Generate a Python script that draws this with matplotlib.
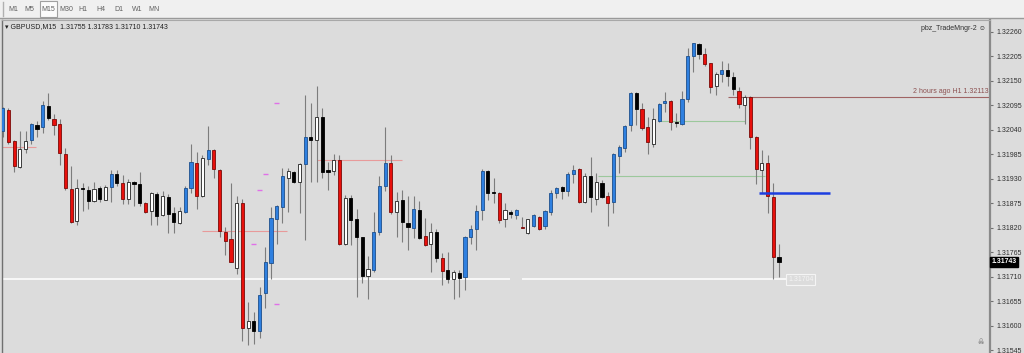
import matplotlib
matplotlib.use("Agg")
import matplotlib.pyplot as plt
import matplotlib.transforms as mtransforms
from matplotlib.patches import Rectangle

plt.rcParams['font.family'] = ['Liberation Sans', 'DejaVu Sans']

# GBPUSD M15 candles (O, H, L, C) and body colour class
opens = [1.32038, 1.32084, 1.32015, 1.31957, 1.31996, 1.32017, 1.32051, 1.32045, 1.32094, 1.32065,
         1.32052, 1.31985, 1.31907, 1.31834, 1.31910, 1.31905, 1.31881, 1.31908, 1.31883, 1.31912,
         1.31940, 1.31920, 1.31884, 1.31923, 1.31918, 1.31876, 1.31858, 1.31896, 1.31848, 1.31890,
         1.31852, 1.31830, 1.31856, 1.31910, 1.31966, 1.31891, 1.31974, 1.31994, 1.31950, 1.31811,
         1.31794, 1.31730, 1.31875, 1.31594, 1.31611, 1.31587, 1.31673, 1.31740, 1.31839, 1.31867,
         1.31932, 1.31946, 1.31922, 1.31962, 1.32024, 1.32017, 1.32068, 1.31948, 1.31948, 1.31972,
         1.31783, 1.31886, 1.31839, 1.31798, 1.31712, 1.31724, 1.31810, 1.31914, 1.31966, 1.31855,
         1.31882, 1.31831, 1.31819, 1.31860, 1.31801, 1.31783, 1.31811, 1.31751, 1.31724, 1.31704,
         1.31719, 1.31710, 1.31800, 1.31816, 1.31860, 1.31947, 1.31901, 1.31899, 1.31839, 1.31856,
         1.31848, 1.31822, 1.31807, 1.31824, 1.31845, 1.31824, 1.31856, 1.31897, 1.31912, 1.31903,
         1.31941, 1.31951, 1.31878, 1.31936, 1.31884, 1.31921, 1.31891, 1.31877, 1.31981, 1.32000,
         1.32051, 1.32123, 1.32086, 1.32045, 1.32009, 1.32060, 1.32099, 1.32104, 1.32057, 1.32053,
         1.32110, 1.32205, 1.32232, 1.32210, 1.32189, 1.32137, 1.32164, 1.32175, 1.32159, 1.32127,
         1.32095, 1.32114, 1.32024, 1.31950, 1.31965, 1.31890, 1.31755]
highs = [1.32092, 1.32089, 1.32018, 1.32036, 1.32036, 1.32056, 1.32060, 1.32104, 1.32122, 1.32075,
         1.32063, 1.31998, 1.31958, 1.31929, 1.31920, 1.31914, 1.31923, 1.31914, 1.31915, 1.31950,
         1.31950, 1.31938, 1.31929, 1.31925, 1.31944, 1.31878, 1.31901, 1.31901, 1.31903, 1.31896,
         1.31866, 1.31867, 1.31914, 1.32009, 1.31991, 1.31983, 1.32048, 1.31996, 1.31951, 1.31822,
         1.31920, 1.31891, 1.31884, 1.31654, 1.31631, 1.31686, 1.31777, 1.31867, 1.31870, 1.31953,
         1.31955, 1.31948, 1.31965, 1.32118, 1.32101, 1.32137, 1.32088, 1.31968, 1.31985, 1.31983,
         1.31893, 1.31893, 1.31863, 1.31800, 1.31756, 1.31856, 1.31935, 1.32045, 1.31983, 1.31901,
         1.31905, 1.31891, 1.31891, 1.31880, 1.31841, 1.31830, 1.31816, 1.31764, 1.31766, 1.31726,
         1.31724, 1.31801, 1.31826, 1.31871, 1.31951, 1.31949, 1.31931, 1.31901, 1.31876, 1.31860,
         1.31863, 1.31843, 1.31840, 1.31850, 1.31846, 1.31860, 1.31905, 1.31912, 1.31914, 1.31944,
         1.31961, 1.31953, 1.31942, 1.31979, 1.31942, 1.31927, 1.31901, 1.31987, 1.32006, 1.32051,
         1.32125, 1.32125, 1.32099, 1.32068, 1.32088, 1.32099, 1.32124, 1.32106, 1.32077, 1.32127,
         1.32223, 1.32235, 1.32235, 1.32223, 1.32190, 1.32170, 1.32195, 1.32190, 1.32170, 1.32135,
         1.32118, 1.32116, 1.32026, 1.31994, 1.31983, 1.31920, 1.31783]
lows = [1.32024, 1.32009, 1.31946, 1.31955, 1.31987, 1.32009, 1.32024, 1.32032, 1.32062, 1.32028,
        1.31961, 1.31905, 1.31831, 1.31825, 1.31858, 1.31863, 1.31878, 1.31878, 1.31882, 1.31878,
        1.31914, 1.31873, 1.31873, 1.31869, 1.31869, 1.31852, 1.31826, 1.31826, 1.31846, 1.31809,
        1.31809, 1.31828, 1.31854, 1.31897, 1.31861, 1.31888, 1.31961, 1.31931, 1.31798, 1.31759,
        1.31742, 1.31716, 1.31566, 1.31557, 1.31559, 1.31572, 1.31640, 1.31704, 1.31783, 1.31830,
        1.31856, 1.31921, 1.31852, 1.31792, 1.31923, 1.31923, 1.31931, 1.31905, 1.31938, 1.31782,
        1.31781, 1.31781, 1.31665, 1.31695, 1.31661, 1.31721, 1.31804, 1.31903, 1.31851, 1.31800,
        1.31789, 1.31770, 1.31796, 1.31794, 1.31780, 1.31721, 1.31744, 1.31691, 1.31695, 1.31659,
        1.31665, 1.31680, 1.31783, 1.31770, 1.31837, 1.31882, 1.31875, 1.31830, 1.31821, 1.31841,
        1.31839, 1.31819, 1.31806, 1.31822, 1.31815, 1.31816, 1.31848, 1.31886, 1.31884, 1.31891,
        1.31920, 1.31876, 1.31875, 1.31856, 1.31871, 1.31886, 1.31824, 1.31854, 1.31942, 1.31991,
        1.32038, 1.32051, 1.32039, 1.31985, 1.32002, 1.32058, 1.32080, 1.32039, 1.32047, 1.32051,
        1.32103, 1.32170, 1.32198, 1.32183, 1.32122, 1.32118, 1.32146, 1.32137, 1.32118, 1.32088,
        1.32052, 1.31997, 1.31918, 1.31897, 1.31854, 1.31704, 1.31710]
closes = [1.32088, 1.32013, 1.31959, 1.31996, 1.32015, 1.32053, 1.32042, 1.32095, 1.32066, 1.32051,
          1.31987, 1.31908, 1.31833, 1.31908, 1.31906, 1.31880, 1.31907, 1.31884, 1.31912, 1.31940,
          1.31920, 1.31884, 1.31923, 1.31918, 1.31875, 1.31856, 1.31897, 1.31846, 1.31891, 1.31851,
          1.31832, 1.31857, 1.31910, 1.31968, 1.31891, 1.31976, 1.31994, 1.31952, 1.31813, 1.31791,
          1.31744, 1.31876, 1.31594, 1.31611, 1.31587, 1.31669, 1.31744, 1.31841, 1.31869, 1.31935,
          1.31947, 1.31923, 1.31962, 1.32024, 1.32018, 1.32068, 1.31946, 1.31946, 1.31972, 1.31783,
          1.31886, 1.31837, 1.31798, 1.31712, 1.31727, 1.31810, 1.31914, 1.31966, 1.31855, 1.31881,
          1.31833, 1.31822, 1.31863, 1.31796, 1.31781, 1.31811, 1.31751, 1.31723, 1.31704, 1.31720,
          1.31708, 1.31800, 1.31816, 1.31858, 1.31948, 1.31899, 1.31897, 1.31837, 1.31860, 1.31850,
          1.31860, 1.31820, 1.31839, 1.31848, 1.31816, 1.31858, 1.31899, 1.31908, 1.31902, 1.31941,
          1.31950, 1.31878, 1.31935, 1.31888, 1.31923, 1.31888, 1.31876, 1.31985, 1.32002, 1.32049,
          1.32123, 1.32086, 1.32043, 1.32012, 1.32063, 1.32098, 1.32104, 1.32058, 1.32054, 1.32110,
          1.32205, 1.32234, 1.32210, 1.32187, 1.32135, 1.32164, 1.32174, 1.32161, 1.32131, 1.32098,
          1.32114, 1.32024, 1.31951, 1.31966, 1.31891, 1.31755, 1.31743]
kinds = ("brrwwbkbkr" "rrrwkkwkwb" "krwkkrwkwk" "kwbbrwbrrr"
         "rwrwkbbbbb" "wkwbkwkkwr" "wkkkwbbbrw" "kkbkrwkrkw"
         "kbbbbkkrwk" "brwbrbbbkb" "brwkwkrbbb" "bkrrwbbrkb"
         "bbkrrwbkkr" "wrrwrrk")

price_ticks = [1.32260, 1.32205, 1.32150, 1.32095, 1.32040, 1.31985, 1.31930,
               1.31875, 1.31820, 1.31765, 1.31710, 1.31655, 1.31600, 1.31545]
timeframes = ["M1", "M5", "M15", "M30", "H1", "H4", "D1", "W1", "MN"]
tf_x = [13, 29, 48, 66, 83, 101, 119, 137, 154]

# drawn objects: levels (start bar, end bar, price)
pink_levels = [(-0.12, 5.8, 1.32002), (34.9, 49.8, 1.31813), (55.1, 70.0, 1.31972)]
green_levels = [(104.3, 133.5, 1.31936), (115.2, 130.0, 1.32060)]
h1_level = (127.1, 1.32113)
blue_level = (132.5, 144.9, 1.31898)
low_level = [(-0.5, 88.9), (91.0, 137.2)]
low_price = 1.31704
marks_x = [48.0, 46.0, 45.0, 43.9, 48.0]
marks_y = [1.32101, 1.31940, 1.31905, 1.31783, 1.31648]

fill = {'b': '#2f80e0', 'r': '#e8100c', 'w': '#ffffff', 'k': '#000000'}
edge = {'b': '#1d4f8c', 'r': '#7a0a08', 'w': '#202020', 'k': '#000000'}

W, H = 1024, 353
fig = plt.figure(figsize=(W / 100, H / 100), dpi=100, facecolor='#dcdcdc')
ax = fig.add_axes([2 / W, 0, 988 / W, (H - 19.5) / H])
ax.set_facecolor('#dcdcdc')

x = list(range(len(opens)))
ax.vlines(x, lows, highs, colors='#7c7c7c', lw=0.8, zorder=2)
bottoms = [min(o, c) for o, c in zip(opens, closes)]
heights = [max(abs(c - o), 2.5e-5) for o, c in zip(opens, closes)]
ax.bar(x, heights, bottom=bottoms, width=0.55,
       color=[fill[k] for k in kinds], edgecolor=[edge[k] for k in kinds],
       linewidth=0.6, zorder=3)

for x0, x1, p in pink_levels:
    ax.hlines(p, x0, x1, colors='#e89a9a', lw=0.8, zorder=1)
for x0, x1, p in green_levels:
    ax.hlines(p, x0, x1, colors='#9cc89c', lw=0.8, zorder=1)
ax.hlines(h1_level[1], h1_level[0], 173, colors='#a06464', lw=0.8, zorder=1)
ax.hlines(blue_level[2], blue_level[0], blue_level[1], colors='#1c3ee0', lw=1.8, zorder=4)
for x0, x1 in low_level:
    ax.hlines(low_price, x0, x1, colors='#f8f8f8', lw=1.4, zorder=1)
for mx, my in zip(marks_x, marks_y):
    ax.hlines(my, mx - 0.45, mx + 0.45, colors='#e070e8', lw=1.0, zorder=1)

ax.text(137.6, low_price, '1.31704', fontsize=5, color='#f4f4f4', va='center',
        bbox=dict(boxstyle='square,pad=0.25', fc='none', ec='#f4f4f4', lw=0.8))
ax.text(0.9985, h1_level[1] + 0.00004, '2 hours ago H1 1.32113', fontsize=5,
        color='#8c5050', ha='right', va='bottom',
        transform=mtransforms.blended_transform_factory(ax.transAxes, ax.transData))

ax.set_xlim(-0.12, 172.97)
ax.set_ylim(1.315387, 1.322874)
ax.set_xticks([])
ax.yaxis.tick_right()
ax.set_yticks(price_ticks)
ax.set_yticklabels(['%.5f' % p for p in price_ticks])
ax.tick_params(axis='y', length=2.5, width=0.8, color='#707070', labelsize=5,
               labelcolor='#303030', pad=2)
for side in ['bottom']:
    ax.spines[side].set_visible(False)
ax.spines['right'].set_color('#8a8a8a')
ax.spines['right'].set_linewidth(1.6)
ax.spines['left'].set_color('#707070')
ax.spines['left'].set_linewidth(1.0)
ax.spines['top'].set_color('#a8a8a8')
ax.spines['top'].set_linewidth(0.8)

# current bid label on the price scale
ax.text(1.0015, closes[-1], '%.5f' % closes[-1], fontsize=5, color='white', va='center',
        fontweight='bold',
        transform=mtransforms.blended_transform_factory(ax.transAxes, ax.transData),
        bbox=dict(boxstyle='square,pad=0.2', fc='black', ec='black'), clip_on=False)

# header texts
fig.text(5 / W, 1 - 26.5 / H, '▾ GBPUSD,M15  1.31755 1.31783 1.31710 1.31743',
         fontsize=5, color='#202020', va='center')
fig.text(986 / W, 1 - 28 / H, 'pbz_TradeMngr-2 ☺', fontsize=5, color='#303030',
         ha='right', va='center')
fig.text(981 / W, 1 - 343 / H, '☠', fontsize=5, color='#606060', ha='center', va='center')

# timeframe toolbar
fig.add_artist(Rectangle((0, 1 - 18 / H), 1, 18 / H, transform=fig.transFigure,
                         fc='#f0f0f0', ec='none'))
fig.add_artist(plt.Line2D([0, 1], [1 - 18 / H, 1 - 18 / H], transform=fig.transFigure,
                          color='#9a9a9a', lw=1.0))
fig.add_artist(plt.Line2D([3 / W, 3 / W], [1 - 2 / H, 1 - 16 / H], transform=fig.transFigure,
                          color='#b0b0b0', lw=1.0))
fig.add_artist(Rectangle((40 / W, 1 - 17 / H), 17 / W, 16 / H, transform=fig.transFigure,
                         fc='#fbfbfb', ec='#a0a0a0', lw=0.8))
for lab, tx in zip(timeframes, tf_x):
    fig.text(tx / W, 1 - 9.5 / H, lab, fontsize=5, color='#606060', ha='center', va='center')

fig.savefig('out.png', dpi=100, facecolor=fig.get_facecolor())
